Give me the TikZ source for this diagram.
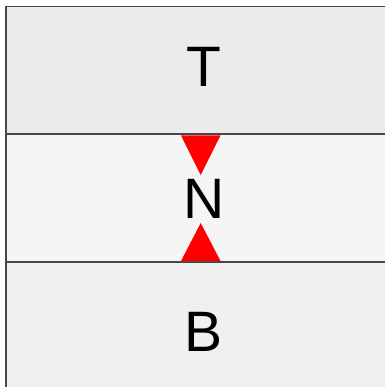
\documentclass[tikz,border=0pt]{standalone}
\usepackage{fontspec}
\setmainfont{Liberation Sans}
\begin{document}
\begin{tikzpicture}[x=1pt,y=-1pt,
  sep/.style={draw=black!72,line width=1.5pt},
  lbl/.style={font=\fontsize{57}{57}\selectfont,inner sep=0pt,anchor=center},
  marker/.style={fill=red,draw=none}]
\useasboundingbox (0,0) rectangle (385,387);
% bands
\fill[black!8] (6,6.5) rectangle (385,134);
\fill[black!4] (6,134) rectangle (385,262);
\fill[black!6] (6,262) rectangle (385,387);
% lines
\draw[sep] (6,387) -- (6,6.5) -- (385,6.5);
\draw[sep] (6,134) -- (385,134);
\draw[sep] (6,262) -- (385,262);
% triangles
\coordinate (tA) at (181,135.5);
\coordinate (tB) at (220.5,135.5);
\coordinate (tC) at (200.7,175);
\fill[marker] (tA) -- (tB) -- (tC) -- cycle;
\coordinate (bA) at (181,261);
\coordinate (bB) at (220.5,261);
\coordinate (bC) at (200.7,223);
\fill[marker] (bA) -- (bB) -- (bC) -- cycle;
% labels
\node[lbl] (T) at (204,67) {T};
\node[lbl] (N) at (204,199) {N};
\node[lbl] (B) at (204,332) {B};
\end{tikzpicture}
\end{document}
